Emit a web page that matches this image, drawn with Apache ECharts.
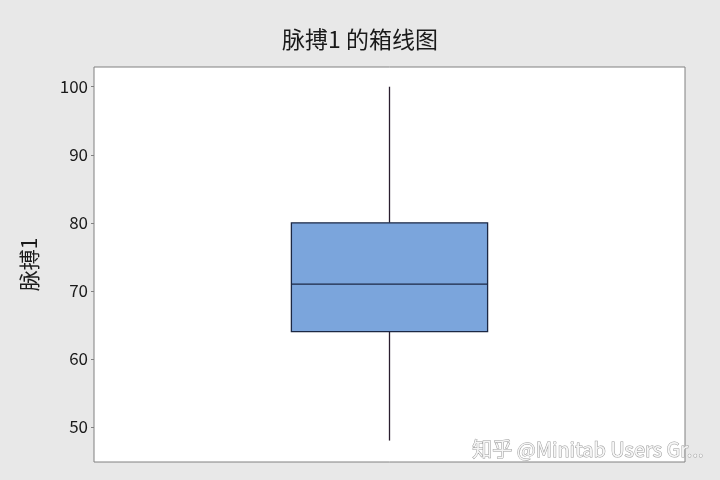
<!DOCTYPE html>
<html><head><meta charset="utf-8">
<script src="https://cdn.jsdelivr.net/npm/echarts@6/dist/echarts.min.js"></script>
<style>html,body{margin:0;padding:0;background:#e8e8e8}#c{width:720px;height:480px}</style>
</head><body><div id="c"></div>
<script>
var categories = ['脉搏1'];
var boxStats = [[48, 64, 71, 80, 100]]; // min, Q1, median, Q3, max
var yTicks = [50, 60, 70, 80, 90, 100];
var yMin = 44.85, yMax = 102.9;

var chart = echarts.init(document.getElementById('c'), null, {renderer: 'canvas'});
var font = '"Noto Sans CJK SC", "Noto Sans", sans-serif';
chart.setOption({
  backgroundColor: '#e8e8e8',
  animation: false,
  title: {
    text: '脉搏1 的箱线图', left: 'center', top: 23,
    textStyle: {fontFamily: font, fontSize: 23, fontWeight: 'normal', color: '#1a1a1a'}
  },
  grid: {left: 94, right: 35, top: 67, bottom: 18, show: true, backgroundColor: '#ffffff', borderColor: '#808080', borderWidth: 1},
  xAxis: {
    type: 'category', data: categories,
    axisLine: {show: false}, axisTick: {show: false}, axisLabel: {show: false}, splitLine: {show: false}
  },
  yAxis: {
    type: 'value', min: yMin, max: yMax,
    name: '脉搏1', nameLocation: 'middle', nameGap: 54, nameRotate: 90,
    nameTextStyle: {fontFamily: font, fontSize: 21, color: '#1a1a1a'},
    axisLine: {show: false},
    axisTick: {show: true, customValues: yTicks, length: 3, lineStyle: {color: '#808080'}},
    axisLabel: {customValues: yTicks, fontFamily: font, fontSize: 17, color: '#1a1a1a', margin: 6},
    splitLine: {show: false}
  },
  graphic: [{
    type: 'text', right: 16, bottom: 20, z: 100,
    style: {text: '知乎 @Minitab Users Gr...', font: '20px ' + font, fill: '#f6f6f6', stroke: '#9a9a9a', lineWidth: 1}
  }],
  series: [{
    type: 'custom',
    data: boxStats.map(function (d, i) { return [i].concat(d); }),
    encode: {x: 0, y: [1, 2, 3, 4, 5]},
    renderItem: function (params, api) {
      var x = api.value(0);
      var pMin = api.coord([x, api.value(1)]);
      var pQ1 = api.coord([x, api.value(2)]);
      var pMed = api.coord([x, api.value(3)]);
      var pQ3 = api.coord([x, api.value(4)]);
      var pMax = api.coord([x, api.value(5)]);
      var w = api.size([1, 0])[0] * 0.332;
      var cx = pQ1[0];
      return {
        type: 'group',
        children: [
          {type: 'line', shape: {x1: cx, y1: pMax[1], x2: cx, y2: pQ3[1]}, style: {stroke: '#2a1e2e', lineWidth: 1.3}},
          {type: 'line', shape: {x1: cx, y1: pQ1[1], x2: cx, y2: pMin[1]}, style: {stroke: '#2a1e2e', lineWidth: 1.3}},
          {type: 'rect', shape: {x: cx - w / 2, y: pQ3[1], width: w, height: pQ1[1] - pQ3[1]}, style: {fill: '#7ba5dc', stroke: '#1c2844', lineWidth: 1.3}},
          {type: 'line', shape: {x1: cx - w / 2, y1: pMed[1], x2: cx + w / 2, y2: pMed[1]}, style: {stroke: '#1c2844', lineWidth: 1.3}}
        ]
      };
    }
  }]
});
</script></body></html>
